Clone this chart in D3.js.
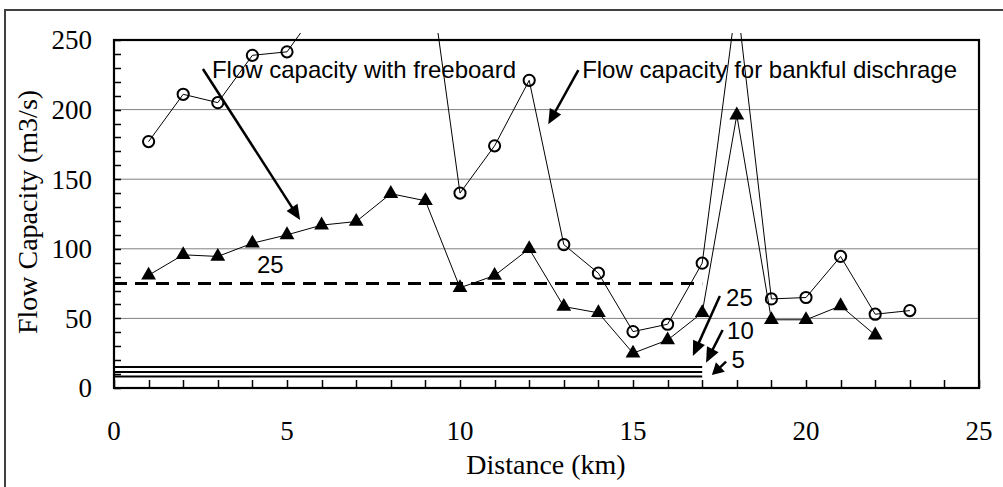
<!DOCTYPE html>
<html><head><meta charset="utf-8">
<script src="https://cdn.jsdelivr.net/npm/d3@7"></script>
<style>body{margin:0;background:#fff}svg{display:block}</style>
</head><body>
<svg id="c" width="1003" height="487"></svg>
<script>
// ---- data ----
const distCircles = [1,2,3,4,5,6,7,8,9,10,11,12,13,14,15,16,17,18,19,20,21,22,23];
const bankful =     [177,211,205,239,241.5,276,300,310,321,140,174,221,103,82.5,40.5,45.8,89.7,280,64,65,94.5,53,55.6];
const distTri = [1,2,3,4,5,6,7,8,9,10,11,12,13,14,15,16,17,18,19,20,21,22];
const freeboard = [81,95.7,94.5,104,110,117,119.6,139.6,134.5,72,80.8,100,58.5,54,25,34.5,54,196,49,49,59,38];
const xTicks = [0,5,10,15,20,25];
const yTicks = [0,50,100,150,200,250];
const dashedLevel = {x0:0, x1:17, y:75, label:"25"};
const solidLevels = [15, 11.5, 8.2];
const solidExtent = [0, 17];
const texts = [
  {t:"Flow capacity with freeboard", x:2.83, y:222.7},
  {t:"Flow capacity for bankful dischrage", x:13.53, y:222.7},
  {t:"25", x:4.13, y:82.4},
  {t:"25", x:17.69, y:58.9},
  {t:"10", x:17.72, y:35.2},
  {t:"5", x:17.85, y:14.6}
];
const arrows = [
  {x1:2.57,y1:229.2,x2:5.38,y2:120.7},
  {x1:13.42,y1:228.4,x2:12.55,y2:189.4},
  {x1:17.51,y1:66.1,x2:16.73,y2:23.0},
  {x1:17.59,y1:41.7,x2:17.11,y2:18.2},
  {x1:17.69,y1:18.9,x2:17.28,y2:9.3}
];

// ---- layout ----
const L=114, R=979, T=40, B=388;
const svg = d3.select("#c");
const x = d3.scaleLinear().domain([0,25]).range([L,R]);
const y = d3.scaleLinear().domain([0,250]).range([B,T]);

// outer border
svg.append("path").attr("d","M5,487V10H1003").attr("fill","none").attr("stroke","#404040").attr("stroke-width",2);

// gridlines
svg.append("g").selectAll("line").data(yTicks.filter(v=>v>0&&v<250)).join("line")
  .attr("x1",L).attr("x2",R).attr("y1",d=>y(d)).attr("y2",d=>y(d))
  .attr("stroke","#808080").attr("stroke-width",1);

// inner ticks (drawn as one path)
const xt = x.ticks(25), yt = y.ticks(25);
svg.append("path")
  .attr("d", xt.map(d=>`M${Math.round(x(d))+0.5},${B}V${B-8}`).join("") +
             yt.map(d=>`M${L},${Math.round(y(d))+0.5}H${L+7}`).join(""))
  .attr("fill","none").attr("stroke","#000").attr("stroke-width",1.5);

// tick labels
svg.append("g").selectAll("text").data(xTicks).join("text")
  .attr("x",d=>x(d)).attr("y",440).attr("text-anchor","middle")
  .attr("font-family","'Liberation Serif','Times New Roman',serif").attr("font-size",27).text(d=>d);
svg.append("g").selectAll("text").data(yTicks).join("text")
  .attr("x",92).attr("y",d=>y(d)).attr("dy","0.35em").attr("text-anchor","end")
  .attr("font-family","'Liberation Serif','Times New Roman',serif").attr("font-size",27).text(d=>d);

// axis titles
svg.append("text").attr("x",546).attr("y",474).attr("text-anchor","middle")
  .attr("font-family","'Liberation Serif','Times New Roman',serif").attr("font-size",28).text("Distance (km)");
svg.append("text").attr("transform","translate(37,212) rotate(-90)").attr("text-anchor","middle")
  .attr("font-family","'Liberation Serif','Times New Roman',serif").attr("font-size",28).text("Flow Capacity (m3/s)");

// level lines
svg.append("line").attr("x1",x(dashedLevel.x0)).attr("x2",x(dashedLevel.x1))
  .attr("y1",y(dashedLevel.y)).attr("y2",y(dashedLevel.y))
  .attr("stroke","#000").attr("stroke-width",3).attr("stroke-dasharray","13,8");
svg.append("g").selectAll("line").data(solidLevels).join("line")
  .attr("x1",x(solidExtent[0])).attr("x2",x(solidExtent[1]))
  .attr("y1",d=>y(d)).attr("y2",d=>y(d)).attr("stroke","#000").attr("stroke-width",2);

// clip for series
svg.append("clipPath").attr("id","clip").append("rect")
  .attr("x",L).attr("y",33).attr("width",R-L).attr("height",B-33);

const line = d3.line().x(d=>x(d[0])).y(d=>y(d[1]));
const cData = distCircles.map((d,i)=>[d,bankful[i]]);
const tData = distTri.map((d,i)=>[d,freeboard[i]]);
const gs = svg.append("g").attr("clip-path","url(#clip)");
gs.append("path").attr("d",line(cData)).attr("fill","none").attr("stroke","#000").attr("stroke-width",1);
gs.append("path").attr("d",line(tData)).attr("fill","none").attr("stroke","#000").attr("stroke-width",1);
gs.selectAll("circle").data(cData.filter(d=>d[1]<=250)).join("circle")
  .attr("cx",d=>x(d[0])).attr("cy",d=>y(d[1])).attr("r",5.6)
  .attr("fill","none").attr("stroke","#000").attr("stroke-width",2);
const tri = d3.symbol().type(d3.symbolTriangle).size(95);
gs.selectAll("path.tri").data(tData).join("path").attr("class","tri")
  .attr("transform",d=>`translate(${x(d[0])},${y(d[1])})`).attr("d",tri()).attr("fill","#000");

// plot border
svg.append("rect").attr("x",L).attr("y",T).attr("width",R-L).attr("height",B-T)
  .attr("fill","none").attr("stroke","#000").attr("stroke-width",2.2);

// annotations
svg.append("g").selectAll("text").data(texts).join("text")
  .attr("x",d=>x(d.x)).attr("y",d=>y(d.y))
  .attr("font-family","'Liberation Sans',Arial,sans-serif").attr("font-size",24).attr("fill","#000").text(d=>d.t);

const ag = svg.append("g");
arrows.forEach(a=>{
  const X1=x(a.x1),Y1=y(a.y1),X2=x(a.x2),Y2=y(a.y2);
  const dx=X2-X1, dy=Y2-Y1, len=Math.hypot(dx,dy), ux=dx/len, uy=dy/len;
  const hl=Math.min(15,len*0.6), hw=6.5;
  const bx=X2-ux*hl, by=Y2-uy*hl;
  ag.append("line").attr("x1",X1).attr("y1",Y1).attr("x2",bx+ux*2).attr("y2",by+uy*2)
    .attr("stroke","#000").attr("stroke-width",2.5);
  ag.append("path").attr("d",`M${X2},${Y2}L${bx-uy*hw},${by+ux*hw}L${bx+uy*hw},${by-ux*hw}Z`).attr("fill","#000");
});
</script>
</body></html>
